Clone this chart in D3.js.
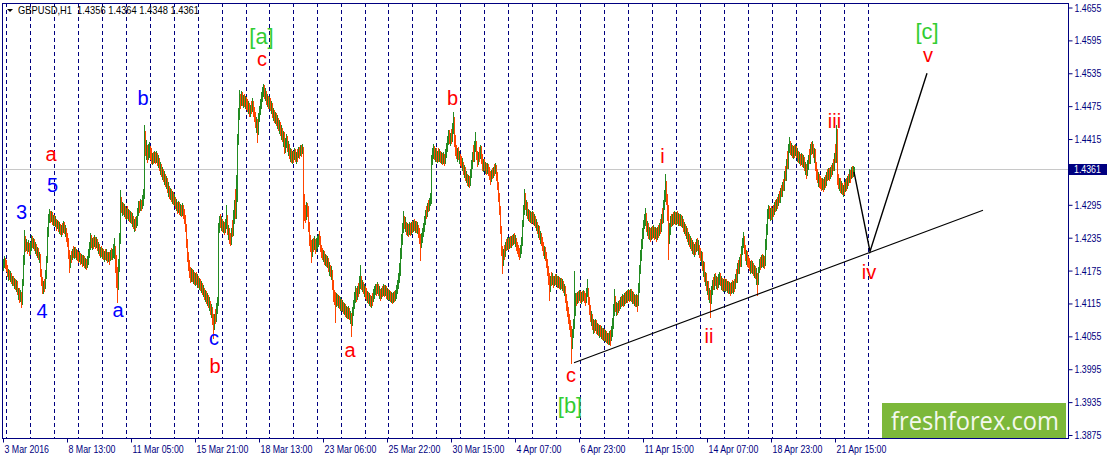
<!DOCTYPE html>
<html>
<head>
<meta charset="utf-8">
<script src="https://cdn.jsdelivr.net/npm/d3@7/dist/d3.min.js"></script>
<style>
  html, body { margin: 0; padding: 0; background: #fff; overflow: hidden; }
  svg { display: block; }
  .ax text { font-family: 'Liberation Sans', Arial, sans-serif; font-size: 11px; fill: #000080; }
  .ax line { stroke: #000080; }
</style>
</head>
<body>
<svg id="chart" width="1108" height="459"></svg>
<script>
// GBPUSD H1, 3 Mar 21:00 .. 22 Apr 2016.
// Prices are kept in pips above PIP_BASE (so 561 -> 1.4361); open = previous close.
const PIP_BASE = 1.38;
const firstOpen = 380;

const closePips = [
  385,392,388,
  380,370,374,366,368,360,364,355,360,352,356,340,344,325,332,318,352,394,430,418,424,415,422,412, // 4 Mar
  418,430,422,428,418,424,412,416,402,406,372,357,340,350,344,368,394,448,470,478,468,476,466,472, // 7 Mar
  462,466,456,462,452,458,448,454,446,456,448,452,438,428,405,388,398,394,406,400,410,404,408,400,
  397,402,393,398,390,396,388,392,384,394,405,418,432,424,428,420,430,422,428,418,422,410,414,406,
  410,400,406,398,406,396,402,394,404,398,406,412,416,398,376,350,378,430,500,490,494,482,488,478,
  484,474,480,470,476,466,470,460,464,456,466,480,494,486,498,490,502,512,612,598,604,584,592,596, // 11 Mar
  586,578,584,576,586,578,584,574,578,566,570,556,560,546,550,538,542,526,530,516,520,508,512,504, // 14 Mar
  506,494,500,488,494,484,490,480,488,478,470,455,425,400,385,372,362,370,362,368,358,364,354,360,
  352,356,346,350,338,342,330,334,322,326,314,318,304,308,288,275,288,282,300,318,455,464,458,466,
  456,462,450,460,466,448,452,434,430,444,438,460,480,470,500,612,660,686,678,692,682,690,680,688,
  680,672,678,666,672,664,678,668,660,648,652,630,652,664,676,688,700,708,698,702,690,694,682,     // 18 Mar
  686,676,680,664,668,656,662,650,654,640,646,632,636,622,628,598,608,614,600,606,590,594,582,588, // 21 Mar
  584,590,582,588,580,592,586,596,590,598,500,480,474,490,482,455,430,420,410,420,414,426,418,424,
  426,434,428,418,408,404,410,397,402,392,396,382,386,372,376,350,330,326,318,324,316,320,312,316,
  310,314,304,308,300,304,294,300,290,296,282,298,312,325,335,326,338,332,350,358,346,352,340,346,
  336,328,332,322,326,316,320,318,330,335,342,334,346,336,340,328,336,332,340,334,340,332,336,     // 25 Mar
  330,334,326,330,324,330,326,332,338,348,356,376,405,430,452,466,456,462,448,454,446,456,448,454, // 28 Mar
  452,458,454,460,450,456,444,438,428,434,440,452,465,476,472,488,484,498,505,575,586,592,584,590,
  582,588,580,586,578,584,576,582,574,585,598,610,622,612,618,610,632,650,612,596,590,596,584,588,
  578,570,574,560,564,549,552,540,544,534,550,567,582,574,596,604,588,576,584,578,595,580,567,572,
  564,568,558,564,556,550,543,550,546,556,552,562,548,531,510,485,450,412,392,404,400,418,412,424, // 1 Apr
  418,426,422,430,424,434,428,432,420,416,410,404,412,427,460,485,510,496,500,478,484,470,476,468, // 4 Apr
  474,466,470,460,464,452,456,440,444,430,420,412,418,403,390,376,360,348,358,352,362,354,360,354,
  358,352,358,350,354,348,354,344,346,330,312,300,288,276,266,238,258,275,298,320,316,326,320,330,
  324,330,322,332,324,321,332,338,320,303,292,296,280,284,270,276,266,272,262,268,260,266,258,262,
  256,260,252,256,248,254,250,262,275,300,320,306,312,300,314,306,318,312,322,316,324,318,328,322,
  330,324,334,326,332,322,326,318,324,317,340,376,400,421,440,458,466,470,456,462,444,450,438,446, // 11 Apr
  440,448,438,446,436,444,440,452,446,467,462,494,510,530,505,485,432,450,463,458,470,462,474,466,
  472,466,474,464,470,462,466,456,460,448,452,438,442,428,432,420,424,412,418,410,422,416,420,410,
  403,408,385,390,365,370,350,356,335,340,320,335,348,340,355,346,358,348,356,362,350,356,346,352,
  346,352,344,350,342,346,340,346,342,348,344,356,352,376,368,388,382,408,421,432,415,403,410,394,
  392,382,386,376,382,372,378,368,370,355,372,385,380,392,386,396,388,420,449,478,484,476,482,474, // 18 Apr
  482,476,490,486,498,492,504,498,515,510,526,520,545,538,567,560,595,602,592,598,588,594,586,596,
  588,592,580,586,574,580,572,578,566,570,556,566,576,570,595,588,598,590,596,568,550,545,552,538,
  536,528,534,526,536,530,546,540,552,546,556,550,564,556,580,572,628,545,536,544,528,534,522,526,
  520,530,526,538,534,549,542,554,550,556,561                                                      // 22 Apr
];

const highPips = [
  396,402,398,
  394,386,378,376,374,370,366,366,362,360,358,354,344,338,340,336,360,404,449,438,432,428,430,426,
  428,440,438,434,432,428,422,418,414,408,402,378,364,356,360,376,402,454,478,487,484,484,481,476,
  476,474,470,468,466,464,460,458,462,466,464,458,452,444,434,412,404,410,414,420,418,418,414,412,
  408,410,407,406,404,403,401,398,396,402,414,428,443,440,434,436,440,436,436,432,428,424,418,420,
  416,414,410,414,414,409,409,408,412,416,414,424,434,420,404,382,396,444,522,510,500,498,496,492,
  490,492,488,486,484,482,480,474,470,472,474,490,502,502,506,504,512,524,640,629,614,604,606,610,
  602,598,590,592,594,592,594,590,586,580,574,570,564,560,556,552,548,544,536,530,526,524,520,518,
  514,510,506,500,502,500,496,494,498,494,488,476,460,432,408,394,382,380,378,376,372,370,372,368,
  366,362,360,356,352,348,344,340,338,334,330,326,320,314,306,296,296,304,316,326,462,474,478,474,
  470,466,464,470,494,476,458,450,444,452,468,486,504,524,550,624,672,704,698,702,700,696,698,694,
  692,688,684,680,678,684,690,684,674,664,656,646,662,676,688,700,710,716,714,708,702,698,694,
  692,690,684,678,672,668,664,662,658,654,650,644,640,636,630,618,616,624,620,612,604,598,596,594,
  594,598,596,592,596,600,600,604,604,606,600,514,494,500,498,492,464,440,430,432,434,438,432,434,
  438,442,448,438,422,416,412,410,406,404,402,398,390,386,384,376,358,340,336,334,332,330,328,326,
  324,322,318,316,314,310,308,310,306,302,298,308,322,336,346,344,346,352,366,386,366,358,354,350,
  346,344,338,336,334,330,328,334,342,346,350,350,354,350,346,342,344,346,350,348,348,346,344,
  342,340,338,336,334,336,338,340,348,358,370,388,416,442,462,484,474,472,464,462,460,464,462,464,
  466,468,470,466,466,464,458,452,442,444,452,462,474,486,492,498,504,508,516,586,598,606,602,598,
  598,594,598,596,594,592,590,592,588,596,608,620,632,632,626,634,644,664,656,622,604,598,600,594,
  588,584,580,574,568,562,556,552,550,548,560,576,592,604,612,627,612,594,592,600,604,602,588,578,
  578,574,572,572,570,564,556,558,562,564,570,572,568,554,536,516,492,456,420,414,422,428,432,436,
  434,436,438,438,440,442,444,440,434,428,422,416,422,436,468,494,523,516,504,492,488,486,484,482,
  484,482,478,474,470,464,458,452,448,442,436,428,420,414,408,396,384,370,366,372,370,366,366,368,
  368,366,366,364,362,362,360,356,350,344,332,320,308,296,284,274,268,286,374,334,334,336,338,340,
  338,336,338,340,338,334,344,359,344,326,312,302,294,286,284,286,284,280,278,276,276,274,270,270,
  268,266,264,262,262,264,266,274,288,314,341,328,318,316,320,322,326,328,332,330,334,336,338,340,
  342,340,342,342,338,336,332,330,332,330,352,386,412,432,452,468,478,489,480,466,456,454,452,454,
  456,458,454,454,452,454,458,462,470,478,490,504,522,551,538,514,494,462,474,478,478,482,484,482,
  482,484,480,478,478,476,474,470,464,460,456,450,446,442,438,434,430,428,424,428,432,434,430,422,
  416,410,402,392,382,372,364,356,350,344,338,346,358,364,368,370,366,364,368,372,370,366,362,360,
  362,360,360,356,356,354,352,354,358,356,360,368,378,388,394,400,406,420,434,445,438,422,412,406,
  402,398,392,394,392,388,386,384,380,370,382,396,400,404,406,404,402,432,460,488,494,492,490,492,
  490,494,500,504,506,510,514,520,526,532,536,542,556,566,578,594,606,618,612,608,604,602,604,606,
  602,598,594,592,588,590,588,586,582,574,568,576,586,596,606,610,611,606,598,592,574,560,554,550,
  548,544,544,542,546,550,554,560,562,562,564,568,572,578,590,606,641,634,552,544,540,538,534,532,
  536,542,544,548,552,560,558,564,566,566,564
];

const lowPips = [
  374,380,378,
  372,364,356,358,354,350,346,347,342,340,336,330,322,316,318,306,312,346,386,408,410,406,408,402,
  404,410,416,414,410,406,402,398,394,388,364,346,332,332,336,342,360,388,436,462,462,464,458,456,
  456,454,448,450,446,442,440,436,440,444,442,436,428,418,396,370,380,388,394,398,396,398,394,392,
  388,390,386,387,382,384,380,378,376,380,386,398,412,416,412,414,418,414,416,410,406,402,398,400,
  396,394,390,394,392,388,390,386,392,394,394,398,396,370,344,315,340,372,424,480,474,476,472,470,
  468,470,466,464,462,460,454,450,446,448,452,456,474,480,484,484,488,492,506,584,576,571,576,580,
  576,570,568,570,572,570,572,566,562,556,550,546,540,536,532,528,524,516,510,506,504,500,496,494,
  492,488,484,478,480,476,474,472,474,470,460,446,416,391,374,362,352,354,354,350,348,346,348,344,
  344,340,338,334,330,326,322,318,314,310,306,302,294,288,276,251,266,278,286,296,311,444,452,448,
  446,444,440,444,450,440,430,424,419,422,436,452,470,486,506,534,604,650,670,676,676,672,674,670,
  668,664,660,656,656,660,664,656,646,636,626,607,622,646,658,670,682,692,688,684,678,674,670,
  670,666,660,654,648,644,642,638,634,630,624,620,614,610,600,588,590,598,592,584,578,574,572,570,
  572,576,574,570,574,580,578,584,582,588,450,466,462,468,472,446,420,408,388,400,408,412,406,408,
  414,418,422,408,398,394,390,386,384,382,380,372,366,364,358,340,318,312,279,308,310,306,304,302,
  302,300,296,294,290,288,286,286,284,278,253,274,292,304,316,318,322,326,332,341,340,336,332,326,
  324,320,316,314,310,308,306,310,318,324,330,328,332,328,324,320,324,326,328,326,328,324,322,
  322,320,318,316,314,316,318,320,324,332,342,352,366,396,422,444,450,446,440,438,436,440,438,440,
  444,446,448,444,444,442,434,424,392,416,426,436,446,458,470,476,482,486,492,496,568,578,576,574,
  574,572,574,574,572,570,568,570,566,570,580,592,604,606,602,606,616,624,600,584,578,574,576,570,
  566,562,556,550,544,538,534,530,528,526,530,544,560,574,588,592,576,564,568,574,582,570,556,554,
  556,552,550,552,548,540,532,536,542,544,548,552,538,522,500,476,441,401,368,384,394,406,410,412,
  412,414,416,416,420,422,424,418,410,406,400,394,398,406,420,454,476,486,474,470,466,464,462,460,
  462,458,456,452,448,442,434,430,424,420,410,402,396,392,380,366,348,319,336,346,348,344,346,348,
  346,344,344,342,340,342,338,334,328,316,302,290,278,266,254,205,232,252,268,292,310,314,316,320,
  316,314,318,320,316,310,316,326,312,294,282,274,266,260,262,264,260,258,256,252,254,250,248,246,
  246,244,242,241,239,240,238,246,254,268,292,300,292,294,298,302,304,308,310,308,310,314,316,316,
  320,318,320,318,314,314,310,308,308,300,310,334,368,392,414,432,450,456,446,438,432,430,428,430,
  432,434,430,432,428,430,434,438,442,452,460,472,486,500,494,466,394,424,440,454,456,458,460,458,
  458,460,456,456,456,454,452,446,442,438,432,428,422,418,414,410,406,404,400,404,408,410,404,398,
  392,384,374,364,354,346,338,330,322,316,289,314,330,340,344,346,342,340,344,348,346,340,338,336,
  338,336,338,334,332,332,328,332,334,332,336,342,352,362,370,376,382,388,404,416,406,392,386,382,
  380,374,368,370,368,366,362,360,348,329,348,370,376,380,382,380,378,384,412,440,470,470,466,468,
  468,472,478,482,484,488,492,498,504,510,516,520,526,538,548,560,576,590,586,584,580,578,580,584,
  580,574,572,570,566,568,564,562,556,550,543,548,558,570,582,586,588,580,572,556,540,534,528,526,
  524,520,522,518,522,526,532,538,540,538,542,546,552,556,560,574,586,532,524,520,516,514,512,510,
  512,518,520,524,530,536,534,542,544,546,548
];

// first bar of each trading day (period separators), last one falls in the shift area
const separatorBars = [3,27,51,75,99,123,147,171,195,219,243,266,290,314,338,362,385,409,433,457,
  481,505,529,553,577,601,625,649,673,697,721,745,769,793,817,841,865];

const timeLabels = ['3 Mar 2016','8 Mar 13:00','11 Mar 05:00','15 Mar 21:00','18 Mar 13:00',
  '23 Mar 06:00','25 Mar 22:00','30 Mar 15:00','4 Apr 07:00','6 Apr 23:00','11 Apr 15:00',
  '14 Apr 07:00','18 Apr 23:00','21 Apr 15:00'];
const timeLabelStep = 64;

const priceTicks = [1.4655,1.4595,1.4535,1.4475,1.4415,1.4355,1.4295,1.4235,1.4175,1.4115,
  1.4055,1.3995,1.3935,1.3875];
const lastPrice = 1.4361;
const headerText = 'GBPUSD,H1  1.4356 1.4364 1.4348 1.4361';

// projected wave path and the support line
const waveBars = [851, 867, 924];
const wavePrices = [1.4355, 1.4210, 1.4535];
const trendBars = [571, 980];
const trendPrices = [1.4007, 1.4285];

// wave labels: text, bar, price (baseline), kind
const labelText  = ['3','4','5','a','a','b','c','b','[a]','c','a','b','i','c','[b]','ii','iii','iv','[c]','v'];
const labelBar   = [18.5,39,49.5,48,115,140,211,212,258.5,259,347,449.5,659.5,568,567,706,831.5,866,924,925];
const labelPrice = [1.4269,1.4089,1.4318,1.4375,1.4090,1.4477,1.4039,1.3988,1.4589,1.4548,
  1.4017,1.4477,1.4371,1.3972,1.3915,1.4043,1.4435,1.4160,1.4597,1.4556];
const labelKind  = ['minor','minor','minor','red','minor','minor','minor','red','major','red',
  'red','red','red','red','major','red','red','red','major','red'];

const W = 1108, H = 459;
const L = 2, R = 1068, T = 3, B = 438;
const NAVY = '#000080';
const kindColor = { minor: '#0000ff', red: '#ff0000', major: '#32cd32' };
const kindSize = { minor: 20, red: 20, major: 22 };

const toPrice = p => PIP_BASE + p / 10000;

// squeeze Arial-metric text to the narrow terminal font width
function narrow(sel, k) {
  sel.each(function () {
    const w = this.getComputedTextLength();
    this.setAttribute('textLength', (w * k).toFixed(1));
    this.setAttribute('lengthAdjust', 'spacingAndGlyphs');
  });
}

const svg = d3.select('#chart');
const x = d3.scaleLinear().domain([0, R - 3]).range([3, R]);
const y = d3.scaleLinear().domain([1.3875, 1.4655]).range([435, 7.5]);

if (closePips.length !== highPips.length || closePips.length !== lowPips.length) {
  console.error('length mismatch', closePips.length, highPips.length, lowPips.length);
}

const bars = closePips.map((c, i) => {
  const o = i ? closePips[i - 1] : firstOpen;
  return {
    i: i,
    o: toPrice(o), c: toPrice(c),
    h: toPrice(Math.max(highPips[i], o, c)),
    l: toPrice(Math.min(lowPips[i], o, c))
  };
});

svg.append('rect').attr('width', W).attr('height', H).attr('fill', '#fff');

// period separators
svg.append('g').selectAll('line').data(separatorBars).enter().append('line')
  .attr('x1', d => Math.round(x(d)) + 0.5).attr('x2', d => Math.round(x(d)) + 0.5)
  .attr('y1', T).attr('y2', B)
  .attr('stroke', NAVY).attr('stroke-width', 1).attr('stroke-dasharray', '4,3');

// bid line
svg.append('line')
  .attr('x1', L).attr('x2', R)
  .attr('y1', Math.round(y(lastPrice)) + 0.5).attr('y2', Math.round(y(lastPrice)) + 0.5)
  .attr('stroke', '#c8c8c8');

// candles, one pixel wide
svg.append('g').attr('shape-rendering', 'crispEdges')
  .selectAll('rect').data(bars).enter().append('rect')
  .attr('x', d => Math.round(x(d.i)))
  .attr('width', 1)
  .attr('y', d => Math.round(y(d.h)))
  .attr('height', d => Math.max(1, Math.round(y(d.l)) - Math.round(y(d.h))))
  .attr('fill', d => d.c > d.o ? '#228b22' : (d.c < d.o ? '#ff4500' : '#000'));

// support line and projected path
const line = d3.line().x(d => x(d[0])).y(d => y(d[1]));
svg.append('path')
  .attr('d', line(trendBars.map((b, k) => [b, trendPrices[k]])))
  .attr('fill', 'none').attr('stroke', '#000').attr('stroke-width', 1.1);
svg.append('path')
  .attr('d', line(waveBars.map((b, k) => [b, wavePrices[k]])))
  .attr('fill', 'none').attr('stroke', '#000').attr('stroke-width', 1.4);

// wave labels
svg.append('g').selectAll('text').data(labelText).enter().append('text')
  .attr('x', (d, k) => x(labelBar[k]))
  .attr('y', (d, k) => y(labelPrice[k]))
  .attr('text-anchor', 'middle')
  .attr('font-family', "'Liberation Sans', Arial, sans-serif")
  .attr('font-size', (d, k) => kindSize[labelKind[k]])
  .attr('fill', (d, k) => kindColor[labelKind[k]])
  .text(d => d);

// logo
svg.append('rect').attr('x', 882).attr('y', 403).attr('width', 184).attr('height', 35).attr('fill', '#7cb83a');
svg.append('text').attr('x', 891).attr('y', 430)
  .attr('font-family', "'Open Sans', sans-serif").attr('font-size', 25)
  .attr('textLength', 168).attr('lengthAdjust', 'spacingAndGlyphs')
  .attr('fill', '#f4f8ee').text('freshforex.com');

// frame
svg.append('rect').attr('x', L + 0.5).attr('y', T + 0.5).attr('width', R - L).attr('height', B - T)
  .attr('fill', 'none').attr('stroke', NAVY);

// price axis; the tick under the last-price box stays hidden behind it
const yp = Math.round(y(lastPrice));
const yAxis = svg.append('g').attr('class', 'ax').attr('transform', `translate(${R + 0.5},0)`)
  .call(d3.axisRight(y).tickValues(priceTicks).tickFormat(d3.format('.4f')).tickSize(4).tickPadding(2));
yAxis.select('.domain').remove();
yAxis.selectAll('.tick').filter(d => Math.abs(y(d) - yp) < 8).select('text').remove();
narrow(yAxis.selectAll('text'), 0.8);

// time axis
const labelBars = timeLabels.map((t, k) => k * timeLabelStep);
const xAxis = svg.append('g').attr('class', 'ax').attr('transform', `translate(0,${B + 0.5})`)
  .call(d3.axisBottom(x).tickValues(labelBars).tickFormat((d, k) => timeLabels[k]).tickSize(4).tickPadding(3));
xAxis.select('.domain').remove();
xAxis.selectAll('text').attr('text-anchor', 'start').attr('x', 1);
narrow(xAxis.selectAll('text'), 0.8);

// last price marker
svg.append('rect').attr('x', R).attr('y', yp - 5).attr('width', 39).attr('height', 11).attr('fill', NAVY);
const lp = svg.append('text').attr('x', R + 6).attr('y', yp + 4)
  .attr('font-family', "'Liberation Sans', Arial, sans-serif")
  .attr('font-size', 11).attr('fill', '#fff').text(d3.format('.4f')(lastPrice));
narrow(lp, 0.8);

// header
svg.append('path').attr('d', 'M7,9 L13,9 L10,12 Z').attr('fill', '#000');
svg.append('text').attr('x', 18).attr('y', 14)
  .attr('font-family', "'Liberation Sans', Arial, sans-serif")
  .attr('font-size', 11).attr('fill', '#000')
  .style('white-space', 'pre')
  .attr('textLength', 181).attr('lengthAdjust', 'spacingAndGlyphs')
  .text(headerText);
</script>
</body>
</html>
